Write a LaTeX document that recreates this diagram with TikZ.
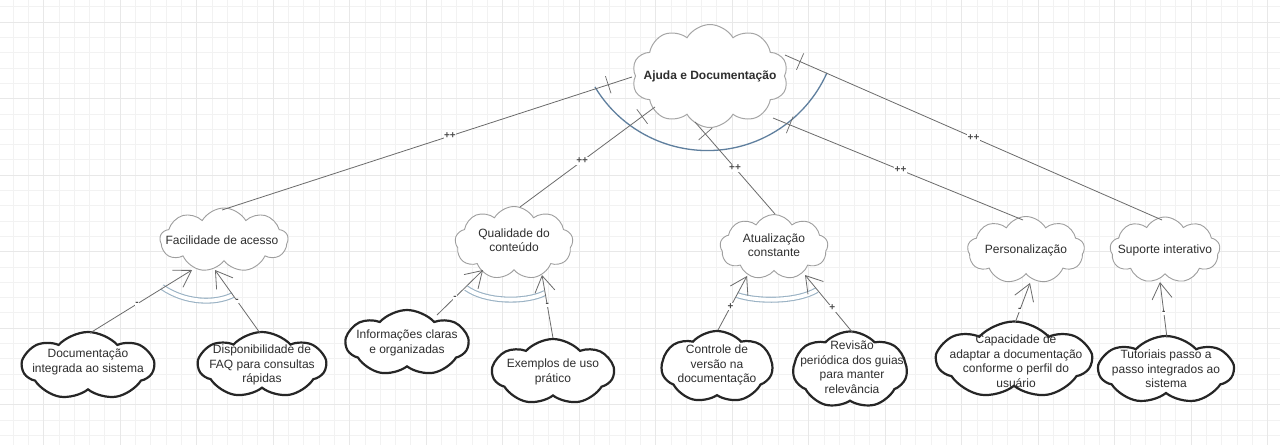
\documentclass[tikz,border=0pt]{standalone}
\usepackage{fontspec}
\setmainfont{Liberation Sans}
\usetikzlibrary{shapes.symbols,arrows.meta,calc}
\definecolor{andblue}{HTML}{5F7F9E}
\definecolor{dblblue}{HTML}{9AB2C4}
\begin{document}
\begin{tikzpicture}[x=1pt,y=-1pt,
 gridminor/.style={draw=black!5, line width=0.6pt},
 gridmajor/.style={draw=black!9, line width=0.9pt},
 cbase/.style={cloud, cloud ignores aspect, fill=white, inner sep=0pt, outer sep=0pt},
 topcloud/.style={cbase, cloud puffs=10, cloud puff arc=120, draw=black!35, line width=1pt},
 midcloud/.style={cbase, cloud puffs=9, cloud puff arc=120, draw=black!38, line width=0.9pt},
 leafcloud/.style={cbase, cloud puffs=7, cloud puff arc=95, draw=black!85, line width=2.2pt},
 txt/.style={font=\fontsize{12}{14.5}\selectfont, text=black!82, align=center, inner sep=0pt},
 conn/.style={draw=black!58, line width=0.8pt},
 dec/.style={conn, -{Straight Barb[length=16pt,width=20pt,line width=0.8pt]}},
 lab/.style={font=\fontsize{10}{10}\selectfont\bfseries, text=black!70, fill=white, inner sep=0.6pt},
 tickbar/.style={sloped, draw=black!58, line width=0.7pt, minimum height=18pt, minimum width=0pt, inner sep=0pt, outer sep=0pt},
 andarc/.style={draw=andblue, line width=1.3pt},
 dblarc/.style={draw=dblblue, line width=1.1pt, double=white, double distance=3.8pt}]
\useasboundingbox (0,0) rectangle (1280,445);
\fill[white] (0,0) rectangle (1280,445);
% grid
\foreach \i in {0,...,83} {\draw[gridminor] ({12.9+15.3*\i},0) -- ({12.9+15.3*\i},445);}
\foreach \i in {0,...,28} {\draw[gridminor] (0,{6.7+15.3*\i}) -- (1280,{6.7+15.3*\i});}
\foreach \i in {0,...,16} {\draw[gridmajor] ({43.5+76.5*\i},0) -- ({43.5+76.5*\i},445);}
\foreach \i in {0,...,5} {\draw[gridmajor] (0,{22+76.5*\i}) -- (1280,{22+76.5*\i});}

\coordinate (pT) at (710,76);
% big AND arc
\draw[andarc] ($(pT)+(-115,11)$) arc[start angle=149, end angle=24, radius=131];
% double arcs
\draw[dblarc] (162,287) .. controls (185,303) and (215,304) .. (233,295);
\draw[dblarc] (466,288) .. controls (485,302) and (525,303) .. (545,293);
\draw[dblarc] (737,295) .. controls (757,302) and (797,302) .. (817,290);

% clouds
\node[topcloud, minimum width=156, minimum height=103] (top) at (710,76) {};
\node[midcloud, minimum width=128, minimum height=64] (fac) at (224,240) {};
\node[midcloud, minimum width=118, minimum height=73] (qual) at (514,243) {};
\node[midcloud, minimum width=108, minimum height=65] (atu) at (774,247) {};
\node[midcloud, minimum width=117, minimum height=67] (pers) at (1026,250) {};
\node[midcloud, minimum width=110, minimum height=66] (sup) at (1165,250) {};
\node[leafcloud, minimum width=131, minimum height=68] (doc) at (88,366) {};
\node[leafcloud, minimum width=127, minimum height=66] (faq) at (262,365) {};
\node[leafcloud, minimum width=122, minimum height=66] (info) at (407,343) {};
\node[leafcloud, minimum width=121, minimum height=66] (exem) at (553,372) {};
\node[leafcloud, minimum width=111, minimum height=72] (ctrl) at (717,367) {};
\node[leafcloud, minimum width=114, minimum height=77] (rev) at (850,370) {};
\node[leafcloud, minimum width=154, minimum height=77] (cap) at (1014,360) {};
\node[leafcloud, minimum width=134, minimum height=68] (tut) at (1166,370) {};

% contributions from the main softgoal
\draw[conn] ($(top)+(-78,1)$) -- node[tickbar, pos=0.058]{} node[lab, pos=0.444]{++} ($(fac)+(-2,-30)$);
\draw[conn] ($(top)+(-55,31)$) -- node[tickbar, pos=0.095]{} node[lab, pos=0.54]{++} ($(qual)+(6,-36)$);
\draw[conn] ($(top)+(-15,46)$) -- node[tickbar, pos=0.13]{} node[lab, pos=0.5]{++} ($(atu)+(1,-33)$);
\draw[conn] ($(top)+(63,42)$) -- node[tickbar, pos=0.067]{} node[lab, pos=0.51]{++} ($(pers)+(-3,-30)$);
\draw[conn] ($(top)+(75,-21)$) -- node[tickbar, pos=0.04]{} node[lab, pos=0.5]{++} ($(sup)+(-3,-30)$);

% decompositions
\draw[dec] ($(doc)+(2,-33)$) -- node[lab, pos=0.46]{-} ($(fac)+(-32,30)$);
\draw[dec] ($(faq)+(-2,-32)$) -- node[lab, pos=0.51]{-} ($(fac)+(-9,30)$);
\draw[dec] ($(info)+(30,-28)$) -- node[lab, pos=0.39]{-} ($(qual)+(-31,27)$);
\draw[dec] ($(exem)+(0,-34)$) -- node[lab, pos=0.52]{-} ($(qual)+(28,32)$);
\draw[dec] ($(ctrl)+(1,-37)$) -- node[lab, pos=0.43]{+} ($(atu)+(-27,29)$);
\draw[dec] ($(rev)+(3,-37)$) -- node[lab, pos=0.43]{+} ($(atu)+(31,28)$);
\draw[dec] ($(cap)+(1,-37)$) -- node[lab, pos=0.32]{-} ($(pers)+(4,33)$);
\draw[dec] ($(tut)+(1,-32)$) -- node[lab, pos=0.45]{-} ($(sup)+(-5,32)$);

% texts
\node[txt, font=\fontsize{12}{14.5}\selectfont\bfseries] (topt) at (top) {Ajuda e Documentação};
\node[txt] (fact) at (222,240) {Facilidade de acesso};
\node[txt] (qualt) at (514,240) {Qualidade do\\conteúdo};
\node[txt] (atut) at (774,245) {Atualização\\constante};
\node[txt] (perst) at (1026,250) {Personalização};
\node[txt] (supt) at (1165,250) {Suporte interativo};
\node[txt] (doct) at (88,362) {Documentação\\integrada ao sistema};
\node[txt] (faqt) at (262,365) {Disponibilidade de\\FAQ para consultas\\rápidas};
\node[txt] (infot) at (407,343) {Informações claras\\e organizadas};
\node[txt] (exemt) at (553,372) {Exemplos de uso\\prático};
\node[txt] (ctrlt) at (717,365) {Controle de\\versão na\\documentação};
\node[txt] (revt) at (852,367) {Revisão\\periódica dos guias\\para manter\\relevância};
\node[txt] (capt) at (1016,361) {Capacidade de\\adaptar a documentação\\conforme o perfil do\\usuário};
\node[txt] (tutt) at (1166,369) {Tutoriais passo a\\passo integrados ao\\sistema};
\end{tikzpicture}
\end{document}
